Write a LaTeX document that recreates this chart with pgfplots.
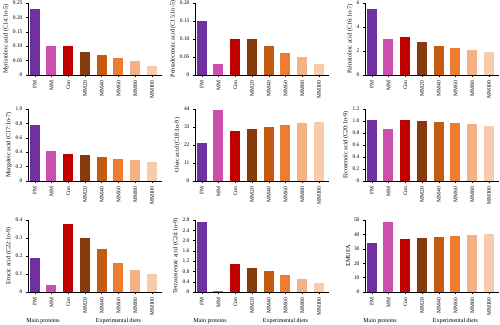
\documentclass[border=0pt]{standalone}
\usepackage{fontspec}
\setmainfont{Liberation Serif}
\usepackage{pgfplots}
\pgfplotsset{compat=1.18}
\definecolor{cFM}{HTML}{7030A0}
\definecolor{cMM}{HTML}{CC4FB0}
\definecolor{cCon}{HTML}{C00000}
\definecolor{cA}{HTML}{843C0C}
\definecolor{cB}{HTML}{C55A11}
\definecolor{cC}{HTML}{ED7D31}
\definecolor{cD}{HTML}{F4B183}
\definecolor{cE}{HTML}{F8CBAD}
\newcommand\bars[8]{%
\addplot[fill=cFM] coordinates {(0,#1)};
\addplot[fill=cMM] coordinates {(1,#2)};
\addplot[fill=cCon] coordinates {(2,#3)};
\addplot[fill=cA] coordinates {(3,#4)};
\addplot[fill=cB] coordinates {(4,#5)};
\addplot[fill=cC] coordinates {(5,#6)};
\addplot[fill=cD] coordinates {(6,#7)};
\addplot[fill=cE] coordinates {(7,#8)};}
\pgfplotsset{panel/.style={
  anchor=north west, scale only axis, width=134bp, height=72bp,
  ybar, bar width=10bp, bar shift=0pt,
  xmin=-0.4, xmax=7.6, ymin=0,
  xtick={0,...,7}, xticklabels={FM,MM,Con,MM20,MM40,MM60,MM80,MM100},
  x tick label style={rotate=90, anchor=east, font=\fontsize{5.6}{6}\selectfont},
  y tick label style={font=\fontsize{5.5}{6}\selectfont},
  ylabel style={font=\fontsize{6.2}{7}\selectfont, yshift=-3bp},
  axis x line*=bottom, axis y line*=left,
  axis line style={line width=0.5pt},
  tick align=outside, major tick length=2bp, tick style={line width=0.4pt, black},
  /pgf/number format/assume math mode=true,
  every axis plot/.append style={draw=none},
  clip=false,
}}
\newcommand\bottomlabels{%
\node[font=\fontsize{6}{7}\selectfont] at (axis description cs:0.1125,-0.41) {Main proteins};
\node[font=\fontsize{6}{7}\selectfont] at (axis description cs:0.675,-0.41) {Experimental diets};}
\begin{document}
\begin{tikzpicture}
\useasboundingbox (0,0) rectangle (500bp,-325bp);
% row 1
\begin{axis}[panel, at={(28bp,-3bp)}, ymax=0.25, ytick={0,0.05,0.10,0.15,0.20,0.25},
  yticklabels={0,0.05,0.10,0.15,0.20,0.25}, ylabel={Myristoleic acid (C14:1n-5)}]
\bars{0.23}{0.10}{0.10}{0.08}{0.07}{0.06}{0.05}{0.03}
\end{axis}
\begin{axis}[panel, at={(195bp,-3bp)}, ymax=0.20, ytick={0,0.05,0.10,0.15,0.20},
  yticklabels={0,0.05,0.10,0.15,0.20}, ylabel={Pentadecenoic acid (C15:1n-5)}]
\bars{0.15}{0.03}{0.10}{0.10}{0.08}{0.06}{0.05}{0.03}
\end{axis}
\begin{axis}[panel, at={(365bp,-3bp)}, ymax=6, ytick={0,2,4,6},
  yticklabels={0,2,4,6}, ylabel={Palmitoleic acid (C16:1n-7)}]
\bars{5.5}{3.0}{3.15}{2.75}{2.4}{2.25}{2.1}{1.95}
\end{axis}
% row 2
\begin{axis}[panel, at={(28bp,-109bp)}, ymax=1.0, ytick={0,0.2,0.4,0.6,0.8,1.0},
  yticklabels={0,0.2,0.4,0.6,0.8,1.0}, ylabel={Margaleic acid (C17:1n-7)}]
\bars{0.78}{0.42}{0.38}{0.36}{0.34}{0.31}{0.29}{0.26}
\end{axis}
\begin{axis}[panel, at={(195bp,-109bp)}, ymax=44, ytick={0,11,22,33,44},
  yticklabels={0,11,22,33,44}, ylabel={Oleic acid (C18:1n-9)}]
\bars{23.3}{43.6}{30.4}{32.0}{33.0}{34.3}{35.3}{36.3}
\end{axis}
\begin{axis}[panel, at={(365bp,-109bp)}, ymax=1.2, ytick={0,0.2,0.4,0.6,0.8,1.0,1.2},
  yticklabels={0,0.2,0.4,0.6,0.8,1.0,1.2}, ylabel={Eicosenoic acid (C20:1n-9)}]
\bars{1.01}{0.87}{1.01}{1.00}{0.99}{0.97}{0.95}{0.91}
\end{axis}
% row 3
\begin{axis}[panel, at={(28bp,-220bp)}, ymax=0.4, ytick={0,0.1,0.2,0.3,0.4},
  yticklabels={0,0.1,0.2,0.3,0.4}, ylabel={Erucic acid (C22:1n-9)}]
\bars{0.19}{0.04}{0.38}{0.30}{0.24}{0.16}{0.12}{0.10}
\bottomlabels
\end{axis}
\begin{axis}[panel, at={(195bp,-220bp)}, ymax=2.8, ytick={0,0.4,0.8,1.2,1.6,2.0,2.4,2.8},
  yticklabels={0,0.4,0.8,1.2,1.6,2.0,2.4,2.8}, ylabel={Tetracosenoic acid (C24:1n-9)}]
\bars{2.71}{0.04}{1.10}{0.95}{0.83}{0.66}{0.50}{0.36}
\bottomlabels
\end{axis}
\begin{axis}[panel, at={(365bp,-220bp)}, ymax=50, ytick={0,10,20,30,40,50},
  yticklabels={0,10,20,30,40,50}, ylabel={ΣMUFA}]
\bars{33.8}{48.4}{36.6}{37.7}{38.2}{38.7}{39.4}{40.0}
\bottomlabels
\end{axis}
\end{tikzpicture}
\end{document}
